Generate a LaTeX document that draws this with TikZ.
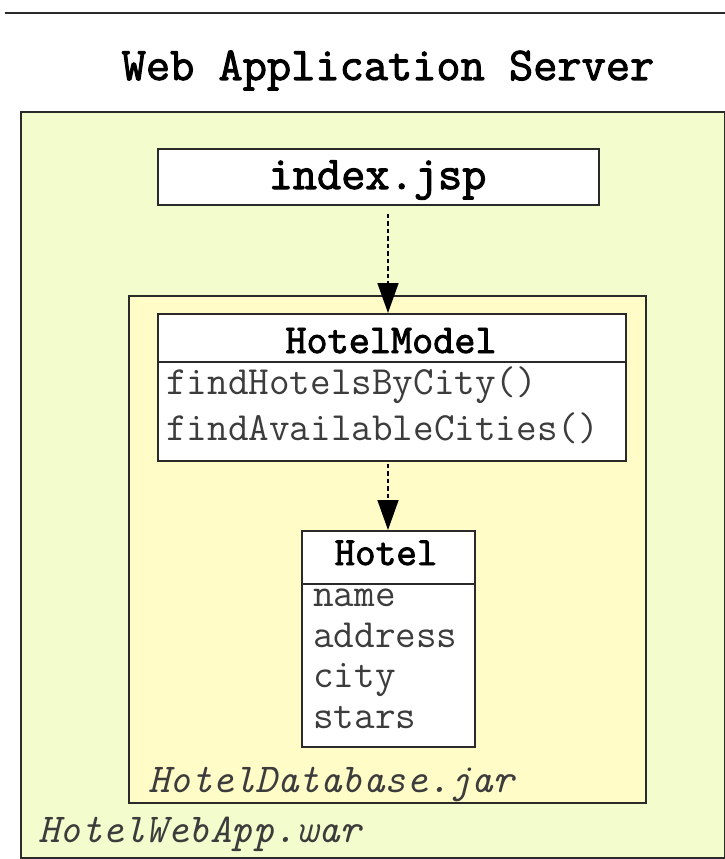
\documentclass[tikz,border=0pt]{standalone}
\usepackage{fontspec}
\newfontfamily\headfont{Latin Modern Mono}[FakeBold=2.2]
\usetikzlibrary{arrows.meta}

\definecolor{warfill}{HTML}{F2FCCC}
\definecolor{jarfill}{HTML}{FFFCC8}
\definecolor{edgecol}{HTML}{2A2A2A}
\definecolor{membertext}{HTML}{3C3C3C}

\tikzset{
  box/.style={draw=edgecol, line width=1.6pt, inner sep=0pt, anchor=north west},
  classbox/.style={box, fill=white},
  headtext/.style={inner sep=0pt, anchor=base, font=\headfont\fontsize{41}{41}\selectfont},
  membertxt/.style={inner sep=0pt, anchor=base west, text=membertext, font=\ttfamily\fontsize{40}{40}\selectfont},
  pkgtext/.style={inner sep=0pt, anchor=base west, text=membertext, font=\ttfamily\itshape\fontsize{41}{41}\selectfont},
  dep/.style={line width=1.5pt, dash pattern=on 4.5pt off 3pt, -{Triangle[length=30pt,width=21pt]}},
}

\begin{document}
\begin{tikzpicture}[x=1pt,y=-1pt]
  \useasboundingbox (0,0) rectangle (725,859);
  \fill[white] (0,0) rectangle (725,859);

  % server heading
  \draw[edgecol, line width=1.6pt] (5,13) -- (725,13);
  \node[headtext, font=\headfont\fontsize{47}{47}\selectfont] (server) at (388,80) {Web Application Server};

  % web archive
  \node[box, fill=warfill, minimum width=704, minimum height=746] (war) at (20,111) {};
  \node[pkgtext] (warlabel) at (38,842) {HotelWebApp.war};

  % index page
  \node[classbox, minimum width=441, minimum height=56] (index) at (157,148) {};
  \node[headtext, font=\headfont\fontsize{47}{47}\selectfont] (indextext) at (377.5,189) {index.jsp};

  % library jar
  \node[box, fill=jarfill, minimum width=517, minimum height=507] (jar) at (128,295) {};
  \node[pkgtext] (jarlabel) at (148,792) {HotelDatabase.jar};

  % HotelModel class
  \node[classbox, minimum width=468, minimum height=147] (hm) at (157,313) {};
  \draw[edgecol, line width=1.6pt] (hm.west |- 0,362) coordinate (hmdivl) -- (hm.east |- 0,362) coordinate (hmdivr);
  \node[headtext] (hmname) at (391,353) {HotelModel};
  \node[membertxt] (hmop1) at (166,394) {findHotelsByCity()};
  \node[membertxt] (hmop2) at (166,440) {findAvailableCities()};

  % Hotel class
  \node[classbox, minimum width=173, minimum height=216] (hotel) at (301,530) {};
  \draw[edgecol, line width=1.6pt] (hotel.west |- 0,584) coordinate (hdivl) -- (hotel.east |- 0,584) coordinate (hdivr);
  \node[headtext, font=\headfont\fontsize{40}{40}\selectfont] (hname) at (386,565) {Hotel};
  \node[membertxt] (hattr1) at (313,606) {name};
  \node[membertxt] (hattr2) at (313,647) {address};
  \node[membertxt] (hattr3) at (313,687) {city};
  \node[membertxt] (hattr4) at (313,728) {stars};

  % dependencies
  \coordinate (axis) at (388,0);
  \draw[dep, shorten <=8pt] (index.south -| axis) -- (hm.north -| axis);
  \draw[dep, shorten <=2pt] (hm.south -| axis) -- (hotel.north -| axis);
\end{tikzpicture}
\end{document}
